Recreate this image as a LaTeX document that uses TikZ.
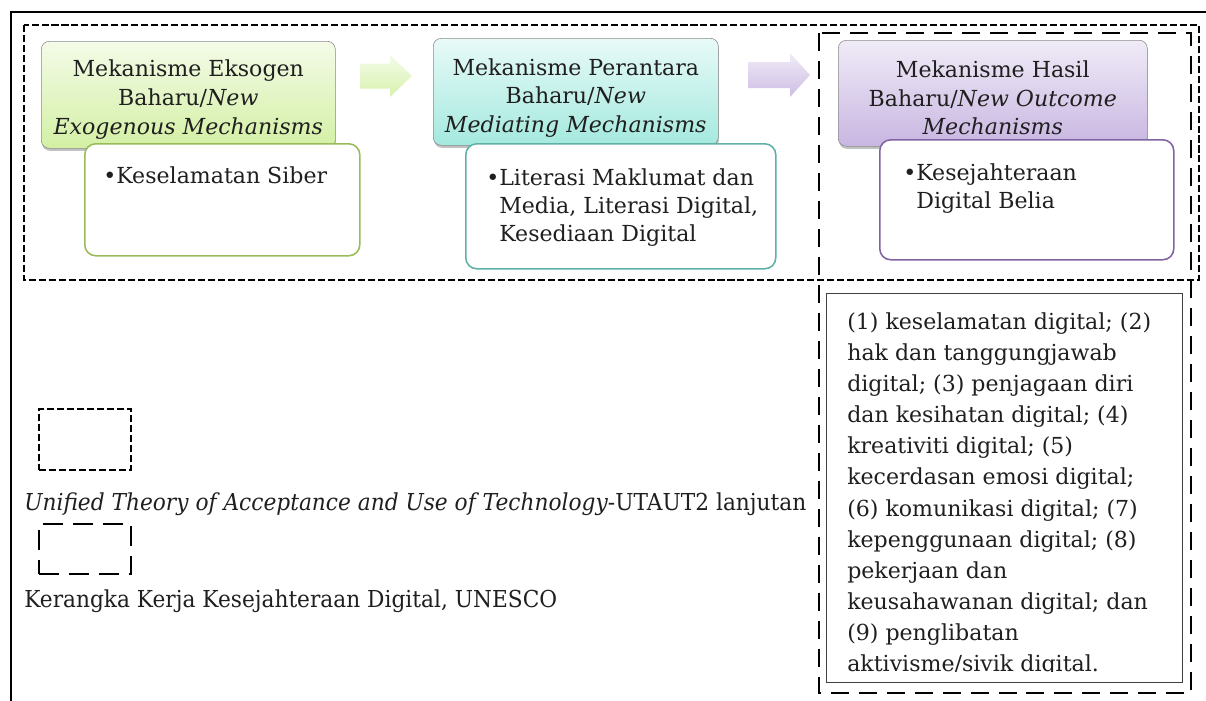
\documentclass[tikz,border=0pt]{standalone}
\usepackage{fontspec}
\setmainfont{DejaVu Serif}
\newfontfamily\legendfont[FakeStretch=0.93]{DejaVu Serif}
\usetikzlibrary{positioning,shadows}
\definecolor{exotop}{HTML}{F4FBE8}
\definecolor{exobot}{HTML}{D3F0A4}
\definecolor{medtop}{HTML}{E8FAF8}
\definecolor{medbot}{HTML}{A4E9DE}
\definecolor{outtop}{HTML}{F0EBF7}
\definecolor{outbot}{HTML}{C8B6E1}
\definecolor{exoline}{HTML}{9BBB59}
\definecolor{medline}{HTML}{5FB1A6}
\definecolor{outline}{HTML}{8064A2}
\colorlet{myink}{black!88}
\newlength\px
\setlength\px{0.025cm}

\begin{document}
\begin{tikzpicture}[
    x=0.025cm, y=-0.025cm,
    font=\fontsize{15.7}{19.9}\selectfont, text=myink,
    frame/.style={draw=black, line width=1.45pt},
    shortdash/.style={draw=black, line width=1.45pt, dash pattern=on 5pt off 2.1pt},
    longdash/.style={draw=black, line width=1.75pt, dash pattern=on 12.8pt off 7.1pt},
    keyshort/.style={shortdash, inner sep=0, anchor=north west, minimum width=92*\px},
    keylong/.style={draw=black, line width=1.45pt, dash pattern=on 14.2pt off 7.1pt,
                    inner sep=0, anchor=north west, minimum width=92*\px},
    head/.style={draw=black!45, rounded corners=8\px, inner sep=0,
                 anchor=north west, minimum height=107*\px,
                 drop shadow={shadow xshift=0.5pt, shadow yshift=-1.8pt,
                              opacity=0.35, fill=black!70}},
    headtext/.style={align=center, inner sep=0, font=\fontsize{15.7}{20.3}\selectfont},
    items/.style={draw=#1, line width=1.1pt, fill=white, rounded corners=11\px,
                  inner sep=0, anchor=north west},
    bullets/.style={anchor=north west, inner sep=0},
    legend/.style={anchor=base west, inner sep=0, font=\legendfont\fontsize{16.6}{20}\selectfont},
  ]
  \useasboundingbox (0,0) rectangle (1206,700);
  \clip (0,0) rectangle (1206,700);

  % ------------------------------------------------------------------ frames
  \draw[frame] (11,720) |- (1230,12);
  \draw[shortdash] (24,25) rectangle (1199,280);
  \draw[longdash] (819,33) rectangle (1191,693);

  % ------------------------------------------------------------------ exogenous
  \node[head, top color=exotop, bottom color=exobot, minimum width=294*\px] (exo) at (41,41) {};
  \node[headtext] (exolabel) at ([yshift=-3.4pt]exo.center)
    {Mekanisme Eksogen\\Baharu/\textit{New}\\\textit{Exogenous Mechanisms}};
  \node[items=exoline, minimum width=275*\px, minimum height=112*\px] (exoitems) at (84,143) {};
  \node[bullets] (exotext) at (103,164)
    {\begin{tabular}{@{}l@{}l@{}}\textbullet&Keselamatan Siber\end{tabular}};

  % ------------------------------------------------------------------ mediating
  \node[head, top color=medtop, bottom color=medbot, minimum width=285*\px] (med) at (433,38) {};
  \node[headtext] (medlabel) at ([yshift=-4.2pt]med.center)
    {Mekanisme Perantara\\Baharu/\textit{New}\\\textit{Mediating Mechanisms}};
  \node[items=medline, minimum width=310*\px, minimum height=125*\px] (meditems) at (465,143) {};
  \node[bullets] (medtext) at (486,166)
    {\begin{tabular}{@{}l@{}l@{}}\textbullet&Literasi Maklumat dan\\
      &Media, Literasi Digital,\\ &Kesediaan Digital\end{tabular}};

  % ------------------------------------------------------------------ outcome
  \node[head, top color=outtop, bottom color=outbot, minimum width=309*\px, minimum height=106*\px] (out) at (838,40) {};
  \node[headtext] (outlabel) at ([yshift=-3.4pt]out.center)
    {Mekanisme Hasil\\Baharu/\textit{New Outcome}\\\textit{Mechanisms}};
  \node[items=outline, minimum width=294*\px, minimum height=120*\px] (outitems) at (879,139) {};
  \node[bullets] (outtext) at (903,161)
    {\begin{tabular}{@{}l@{}l@{}}\textbullet&Kesejahteraan\\ &Digital Belia\end{tabular}};

  % block arrows between the headers
  \shade[top color=exotop, bottom color=exobot!90]
    (360,63.5) -- (390,63.5) -- (390,55) -- (412,76) -- (390,97) -- (390,88.5) -- (360,88.5) -- cycle;
  \shade[top color=outtop, bottom color=outbot!90]
    (748,62) -- (790,62) -- (790,53) -- (810,75) -- (790,97) -- (790,88) -- (748,88) -- cycle;

  % ------------------------------------------------------------------ UNESCO dimensions
  \node[draw=black!75, line width=0.75pt, inner sep=0, anchor=north west,
        minimum width=356*\px, minimum height=389*\px] (dims) at (826,293) {};
  % the last line runs into the bottom of the box, so it is cut off there
  \begin{scope}
    \clip (826,293) rectangle (1182,671);
    \node[bullets, font=\fontsize{15.7}{22.1}\selectfont] (dimstext) at (847,307.5)
      {\begin{tabular}{@{}l@{}}
        (1) keselamatan digital; (2)\\
        hak dan tanggungjawab\\
        digital; (3) penjagaan diri\\
        dan kesihatan digital; (4)\\
        kreativiti digital; (5)\\
        kecerdasan emosi digital;\\
        (6) komunikasi digital; (7)\\
        kepenggunaan digital; (8)\\
        pekerjaan dan\\
        keusahawanan digital; dan\\
        (9) penglibatan\\
        aktivisme/sivik digital.
      \end{tabular}};
  \end{scope}

  % ------------------------------------------------------------------ key
  \node[keyshort, minimum height=61*\px] (utautkey) at (38,408) {};
  \node[legend] (utautlabel) at (24,510)
    {\textit{Unified Theory of Acceptance and Use of Technology}-UTAUT2 lanjutan};
  \node[keylong, minimum height=50*\px] (unescokey) at (38,523) {};
  \node[legend] (unescolabel) at (24,607) {Kerangka Kerja Kesejahteraan Digital, UNESCO};

\end{tikzpicture}
\end{document}
